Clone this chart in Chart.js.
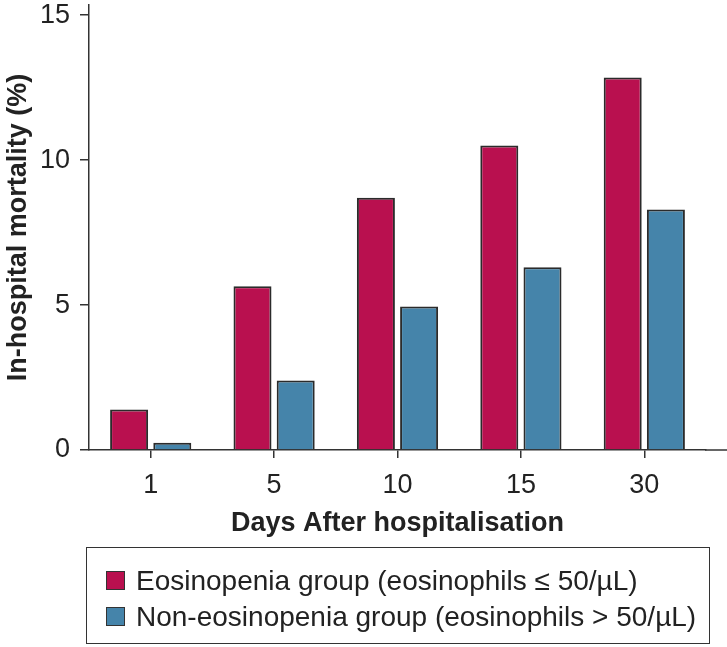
<!DOCTYPE html>
<html>
<head>
<meta charset="utf-8">
<script src="https://cdn.jsdelivr.net/npm/chart.js@4"></script>
<style>
  body { margin: 0; background: #fff; font-family: "Liberation Sans", Arial, sans-serif; }
  #wrap { position: relative; width: 727px; height: 647px; }
  #legend {
    position: absolute; left: 86px; top: 547px; width: 622px; height: 95px;
    border: 1.5px solid #333; box-sizing: content-box;
    font-size: 28px; color: #222;
  }
  .item { position: absolute; left: 19px; height: 22px; line-height: 22px; white-space: nowrap; }
  .item span.sw {
    display: inline-block; width: 17px; height: 17px; border: 1.5px solid #333;
    vertical-align: top; margin-top: 1px; margin-right: 11px;
  }
</style>
</head>
<body>
<div id="wrap">
  <canvas id="chart" width="727" height="647"></canvas>
  <div id="legend"></div>
</div>
<script>
const days = ['1', '5', '10', '15', '30'];
const eosinopenia = [1.4, 5.65, 8.7, 10.5, 12.85];
const nonEosinopenia = [0.25, 2.4, 4.95, 6.3, 8.3];
const yTicks = [0, 5, 10, 15];

const seriesNames = [
  'Eosinopenia group (eosinophils \u2264 50/\u00b5L)',
  'Non-eosinopenia group (eosinophils > 50/\u00b5L)'
];
const red = '#B9104F';
const blue = '#4584AA';
const ink = '#333333';

// x axis line runs on to the right edge in the original
const extendBaseline = {
  id: 'extendBaseline',
  afterDraw(chart) {
    const { ctx, chartArea } = chart;
    ctx.save();
    ctx.strokeStyle = ink;
    ctx.lineWidth = 1.5;
    ctx.beginPath();
    ctx.moveTo(chartArea.right - 1, chartArea.bottom);
    ctx.lineTo(chart.width, chartArea.bottom);
    ctx.stroke();
    ctx.restore();
  }
};

const ctx = document.getElementById('chart').getContext('2d');
new Chart(ctx, {
  type: 'bar',
  data: {
    labels: days,
    datasets: [
      { label: seriesNames[0], data: eosinopenia, backgroundColor: red, borderColor: '#2b2b2b', borderWidth: 2 },
      { label: seriesNames[1], data: nonEosinopenia, backgroundColor: blue, borderColor: '#2b2b2b', borderWidth: 2 }
    ]
  },
  options: {
    responsive: false,
    animation: false,
    categoryPercentage: 0.7,
    barPercentage: 0.88,
    layout: { padding: { left: 0, top: 5, right: 21, bottom: 97 } },
    plugins: { legend: { display: false }, tooltip: { enabled: false } },
    scales: {
      x: {
        afterFit(scale) {
          scale.height = 100;
          scale.paddingLeft = 0;
          scale.paddingRight = 0;
        },
        grid: { offset: false, drawOnChartArea: false, tickLength: 8, color: ink, lineWidth: 1.5 },
        border: { color: ink, width: 1.5 },
        ticks: { color: '#222', padding: 11, font: { family: 'Liberation Sans', size: 27 } },
        title: {
          display: true, text: 'Days After hospitalisation', color: '#222',
          font: { family: 'Liberation Sans', size: 27, weight: 'bold' },
          padding: { top: 0, bottom: 10 }
        }
      },
      y: {
        min: 0,
        max: 15.35,
        afterFit(scale) {
          scale.width = 89;
          scale.paddingTop = 0;
          scale.paddingBottom = 0;
        },
        afterBuildTicks(scale) { scale.ticks = yTicks.map(v => ({ value: v })); },
        grid: { drawOnChartArea: false, tickLength: 9, color: ink, lineWidth: 1.5 },
        border: { color: ink, width: 1.5 },
        ticks: { color: '#222', padding: 10, font: { family: 'Liberation Sans', size: 27 } },
        title: {
          display: true, text: 'In-hospital mortality (%)', color: '#222',
          font: { family: 'Liberation Sans', size: 27, weight: 'bold' },
          padding: { top: 2, bottom: 0 }
        }
      }
    }
  },
  plugins: [extendBaseline]
});

// legend box below the plot
const legend = document.getElementById('legend');
[red, blue].forEach((c, i) => {
  const row = document.createElement('div');
  row.className = 'item';
  row.style.top = (22 + i * 36) + 'px';
  const sw = document.createElement('span');
  sw.className = 'sw';
  sw.style.background = c;
  row.appendChild(sw);
  row.appendChild(document.createTextNode(seriesNames[i]));
  legend.appendChild(row);
});
</script>
</body>
</html>
